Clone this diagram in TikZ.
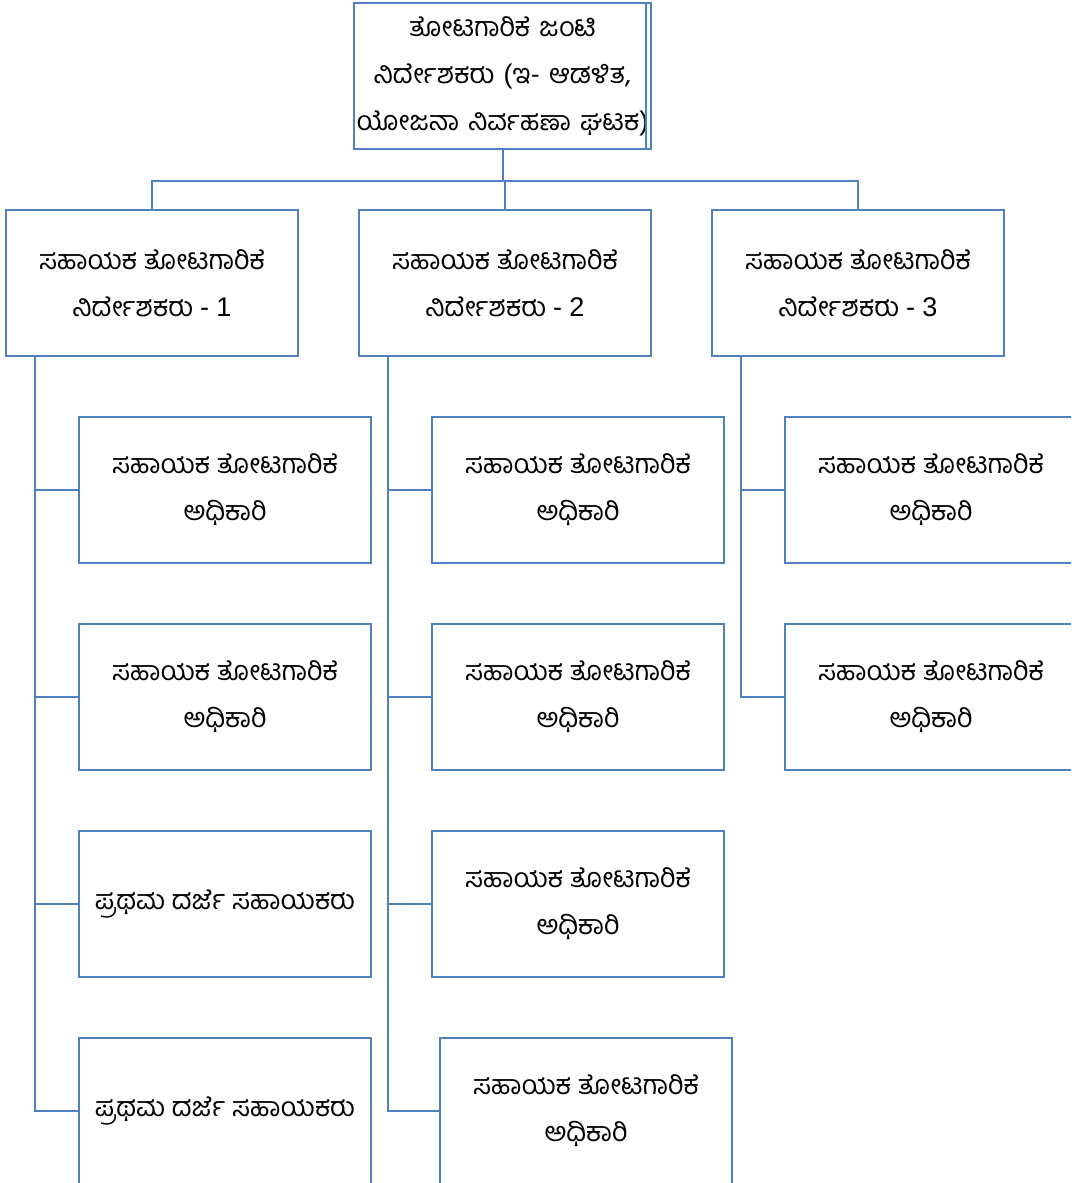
\documentclass[tikz,border=0pt]{standalone}
\usepackage{fontspec}
\newfontfamily\kn[Script=Kannada]{Hind Mysuru}
\newfontfamily\lat{Liberation Sans}
\usetikzlibrary{positioning,calc}
\definecolor{boxblue}{RGB}{79,129,189}

\begin{document}
\begin{tikzpicture}[
  x=0.5pt, y=-0.5pt,
  box/.style={draw=boxblue, line width=1pt, fill=white, align=center, inner sep=1pt, minimum width=146pt, minimum height=73pt, font=\kn\fontsize{13.5}{23.5}\selectfont},
  link/.style={draw=boxblue, line width=1pt}
]
\useasboundingbox (0,0) rectangle (1071,1183);
\clip (0,0) rectangle (1071,1183);
\node[box, minimum width=148.5pt, text width=146pt] (J) at (502.5,76) {ತೋಟಗಾರಿಕೆ ಜಂಟಿ\\ನಿರ್ದೇಶಕರು {\lat(}ಇ- ಆಡಳಿತ,\\ಯೋಜನಾ ನಿರ್ವಹಣಾ ಘಟಕ{\lat)}};
\draw[link] ([xshift=-3pt]J.north east) -- ([xshift=-3pt]J.south east);
\node[box] (D1) at (152,283) {ಸಹಾಯಕ ತೋಟಗಾರಿಕೆ\\ನಿರ್ದೇಶಕರು {\lat - 1}};
\node[box] (D2) at (505,283) {ಸಹಾಯಕ ತೋಟಗಾರಿಕೆ\\ನಿರ್ದೇಶಕರು {\lat - 2}};
\node[box] (D3) at (858,283) {ಸಹಾಯಕ ತೋಟಗಾರಿಕೆ\\ನಿರ್ದೇಶಕರು {\lat - 3}};
\node[box] (A11) at (225,490) {ಸಹಾಯಕ ತೋಟಗಾರಿಕೆ\\ಅಧಿಕಾರಿ};
\node[box] (A12) at (225,697) {ಸಹಾಯಕ ತೋಟಗಾರಿಕೆ\\ಅಧಿಕಾರಿ};
\node[box] (A13) at (225,904) {ಪ್ರಥಮ ದರ್ಜೆ ಸಹಾಯಕರು};
\node[box] (A14) at (225,1111) {ಪ್ರಥಮ ದರ್ಜೆ ಸಹಾಯಕರು};
\node[box] (A21) at (578,490) {ಸಹಾಯಕ ತೋಟಗಾರಿಕೆ\\ಅಧಿಕಾರಿ};
\node[box] (A22) at (578,697) {ಸಹಾಯಕ ತೋಟಗಾರಿಕೆ\\ಅಧಿಕಾರಿ};
\node[box] (A23) at (578,904) {ಸಹಾಯಕ ತೋಟಗಾರಿಕೆ\\ಅಧಿಕಾರಿ};
\node[box] (A24) at (586,1111) {ಸಹಾಯಕ ತೋಟಗಾರಿಕೆ\\ಅಧಿಕಾರಿ};
\node[box] (A31) at (931,490) {ಸಹಾಯಕ ತೋಟಗಾರಿಕೆ\\ಅಧಿಕಾರಿ};
\node[box] (A32) at (931,697) {ಸಹಾಯಕ ತೋಟಗಾರಿಕೆ\\ಅಧಿಕಾರಿ};
\draw[link] (J.south) -- ++(0,-15.5pt) -| (D1.north);
\draw[link] (J.south) -- ++(0,-15.5pt) -| (D3.north);
\draw[link] (J.south) -- ++(0,-15.5pt) -| (D2.north);
\draw[link] ([xshift=15pt]D1.south west) |- (A14.west);
\draw[link] (A11.west) -- ++(-21.5pt,0);
\draw[link] (A12.west) -- ++(-21.5pt,0);
\draw[link] (A13.west) -- ++(-21.5pt,0);
\draw[link] ([xshift=15pt]D2.south west) |- (A24.west);
\draw[link] (A21.west) -- ++(-21.5pt,0);
\draw[link] (A22.west) -- ++(-21.5pt,0);
\draw[link] (A23.west) -- ++(-21.5pt,0);
\draw[link] ([xshift=15pt]D3.south west) |- (A32.west);
\draw[link] (A31.west) -- ++(-21.5pt,0);
\end{tikzpicture}
\end{document}
